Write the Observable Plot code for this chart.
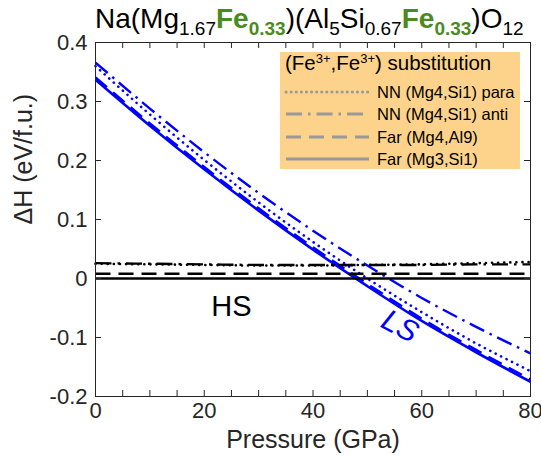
<!DOCTYPE html>
<html><head><meta charset="utf-8">
<script src="https://cdn.jsdelivr.net/npm/d3@7"></script>
<script src="https://cdn.jsdelivr.net/npm/@observablehq/plot@0.6"></script>
<style>
body{margin:0;background:#fff;}
#chart{width:541px;height:461px;}
</style>
</head><body><div id="chart"></div>
<script>
// ---- data ----
const pressure = [0, 10, 20, 30, 40, 50, 60, 70, 80];
// low-spin (blue)
const lsFarMg3Si1 = [0.337, 0.259, 0.185, 0.115, 0.049, -0.013, -0.072, -0.125, -0.175];
const lsFarMg4Al9 = [0.341, 0.263, 0.189, 0.119, 0.053, -0.009, -0.068, -0.121, -0.171];
const lsNNpara    = [0.360, 0.278, 0.201, 0.129, 0.062, 0.000, -0.057, -0.110, -0.157];
const lsNNanti    = [0.366, 0.288, 0.214, 0.145, 0.081, 0.022, -0.033, -0.082, -0.127];
// high-spin (black)
const hsFarMg3Si1 = [0, 0, 0, 0, 0, 0, 0, 0, 0];
const hsFarMg4Al9 = [0.008, 0.008, 0.008, 0.008, 0.008, 0.008, 0.008, 0.008, 0.008];
const hsNNpara    = [0.025, 0.024, 0.023, 0.022, 0.022, 0.023, 0.024, 0.026, 0.028];
const hsNNanti    = [0.026, 0.025, 0.024, 0.023, 0.023, 0.023, 0.023, 0.024, 0.024];

const xMajorTicks = [0, 20, 40, 60, 80];
const xMinorTicks = [0, 5, 10, 15, 20, 25, 30, 35, 40, 45, 50, 55, 60, 65, 70, 75, 80];
const yTicks = [-0.2, -0.1, 0, 0.1, 0.2, 0.3, 0.4];
const xLabel = "Pressure (GPa)";
const yLabel = "ΔH (eV/f.u.)";
const legendTitle = "substitution";
const legendLabels = ["NN (Mg4,Si1) para", "NN (Mg4,Si1) anti", "Far (Mg4,Al9)", "Far (Mg3,Si1)"];
const stateLabels = [{text: "HS", p: 25, v: -0.047}, {text: "LS", p: 56, v: -0.081}];

// ---- layout ----
const W = 541, H = 461;
const mL = 95, mR = 11, mT = 42, mB = 65;
const plotW = W - mL - mR, plotH = H - mT - mB;
const FONT = "'Liberation Sans', Arial, sans-serif";
const AX = "#262626";

const dashStyles = {
  para: {dash: "0.1,6", cap: "round", w: 2.6},
  anti: {dash: "16,6,2.5,6", cap: "butt", w: 2.4},
  far9: {dash: "15,8", cap: "butt", w: 2.4},
  far1: {dash: null, cap: "butt", w: 2.6}
};

const seriesDefs = [
  {vals: lsNNanti, st: "anti", color: "#0000ff"},
  {vals: lsNNpara, st: "para", color: "#0000ff"},
  {vals: lsFarMg4Al9, st: "far9", color: "#0000ff"},
  {vals: lsFarMg3Si1, st: "far1", color: "#0000ff"},
  {vals: hsNNanti, st: "anti", color: "#000000"},
  {vals: hsNNpara, st: "para", color: "#000000"},
  {vals: hsFarMg4Al9, st: "far9", color: "#000000"},
  {vals: hsFarMg3Si1, st: "far1", color: "#000000"}
];

const lineMarks = seriesDefs.map(s => {
  const rows = pressure.map((p, i) => ({p, v: s.vals[i]}));
  const d = dashStyles[s.st];
  return Plot.line(rows, {
    x: "p", y: "v", stroke: s.color, strokeWidth: d.w,
    strokeDasharray: d.dash, strokeLinecap: d.cap, curve: "monotone-x"
  });
});

const chart = Plot.plot({
  width: W, height: H,
  marginLeft: mL, marginRight: mR, marginTop: mT, marginBottom: mB,
  style: {fontFamily: FONT, fontSize: "22px", color: AX, background: "#fff"},
  x: {domain: [0, 80]},
  y: {domain: [-0.2, 0.4]},
  marks: [
    ...lineMarks,
    Plot.text([stateLabels[0]], {x: "p", y: "v", text: "text", fontSize: 29, fill: "#000"}),
    Plot.text([stateLabels[1]], {x: "p", y: "v", text: "text", fontSize: 30, fill: "#0000ff", fontStyle: "italic", rotate: 28}),
    // inward ticks
    Plot.ruleX(xMinorTicks, {stroke: AX, insetTop: plotH - 6}),
    Plot.ruleX(xMinorTicks, {stroke: AX, insetBottom: plotH - 6}),
    Plot.ruleY(yTicks, {stroke: AX, insetRight: plotW - 6}),
    Plot.ruleY(yTicks, {stroke: AX, insetLeft: plotW - 6}),
    Plot.axisX({ticks: xMajorTicks, tickSize: 0, tickPadding: 6, fontSize: 22, label: null, fill: AX}),
    Plot.axisY({ticks: yTicks, tickSize: 0, tickPadding: 8, fontSize: 22, label: null, fill: AX, tickFormat: d => d === 0 ? "0" : d3.format(".1f")(d).replace("−", "-")}),
    Plot.text([xLabel], {frameAnchor: "bottom", dy: 51, fontSize: 25, fill: AX}),
    Plot.text([yLabel], {frameAnchor: "left", rotate: -90, dx: -72, dy: 5, fontSize: 25, fill: AX}),
    Plot.frame({stroke: AX, strokeWidth: 1})
  ]
});

document.getElementById("chart").appendChild(chart);

// ---- title (real text with sub/superscripts) ----
const svg = d3.select(chart);
const GREEN = "#4b8a1e";
const title = svg.append("text")
  .attr("x", 95).attr("y", 28).attr("text-anchor", "start")
  .attr("font-family", FONT).attr("font-size", 28).attr("fill", "#000");
const parts = [
  {t: "Na(Mg"}, {t: "1.67", sub: true}, {t: "Fe", g: true}, {t: "0.33", sub: true, g: true},
  {t: ")(Al"}, {t: "5", sub: true}, {t: "Si"}, {t: "0.67", sub: true},
  {t: "Fe", g: true}, {t: "0.33", sub: true, g: true}, {t: ")O"}, {t: "12", sub: true}
];
let shifted = false;
parts.forEach(p => {
  const ts = title.append("tspan").text(p.t);
  if (p.sub && !shifted) { ts.attr("dy", 7); shifted = true; }
  else if (!p.sub && shifted) { ts.attr("dy", -7); shifted = false; }
  if (p.sub) ts.attr("font-size", 19);
  if (p.g) ts.attr("fill", GREEN).attr("font-weight", "bold");
});

// ---- legend ----
const lg = svg.append("g").attr("font-family", FONT).attr("text-anchor", "start");
lg.append("rect").attr("x", 280).attr("y", 52).attr("width", 240).attr("height", 117).attr("fill", "#fdd38b");
const lt = lg.append("text").attr("x", 285).attr("y", 70).attr("font-size", 20.5).attr("fill", "#000");
lt.append("tspan").text("(Fe");
lt.append("tspan").text("3+").attr("font-size", 13).attr("dy", -7);
lt.append("tspan").text(",Fe").attr("dy", 7);
lt.append("tspan").text("3+").attr("font-size", 13).attr("dy", -7);
lt.append("tspan").text(") " + legendTitle).attr("dy", 7);
const legendStyles = ["para", "anti", "far9", "far1"];
const rowY = [92, 114, 137, 159];
legendLabels.forEach((lab, i) => {
  const d = dashStyles[legendStyles[i]];
  lg.append("line").attr("x1", 286).attr("x2", 369).attr("y1", rowY[i]).attr("y2", rowY[i])
    .attr("stroke", "#999").attr("stroke-width", 3)
    .attr("stroke-dasharray", d.dash === "0.1,6" ? "0.1,5" : d.dash)
    .attr("stroke-linecap", d.cap);
  lg.append("text").attr("x", 377).attr("y", rowY[i]).attr("dy", "0.35em")
    .attr("font-size", 16.5).attr("fill", "#000").text(lab);
});
</script>
</body></html>
